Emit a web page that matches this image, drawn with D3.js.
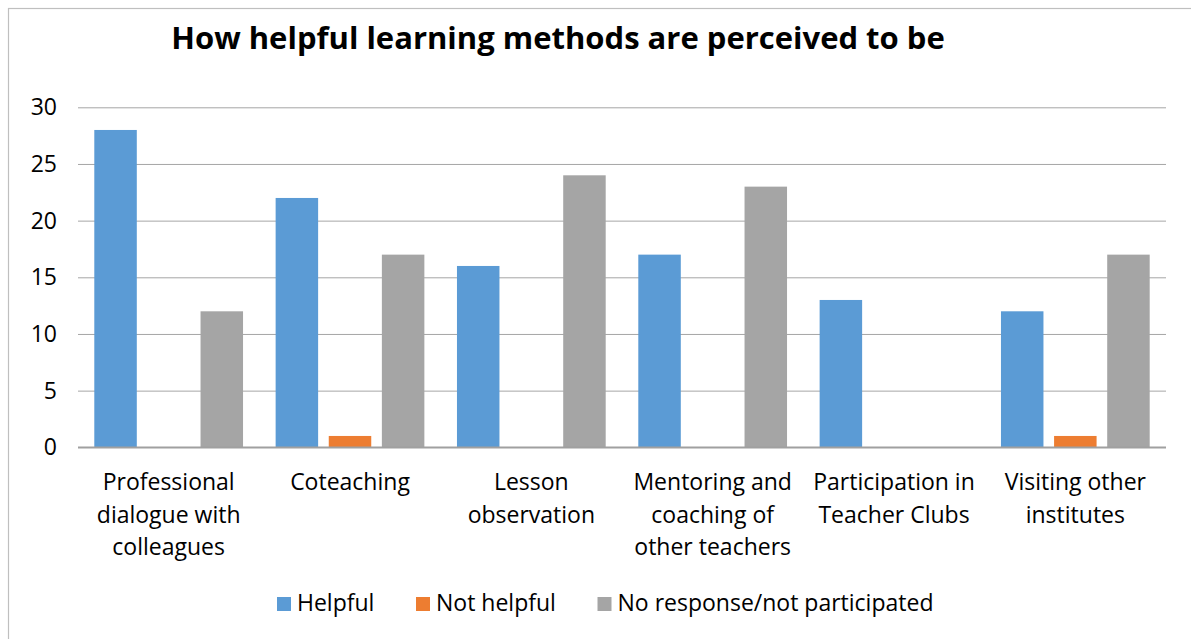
<!DOCTYPE html>
<html lang="en">

<head>
    <meta charset="UTF-8">
    <title>How helpful learning methods are perceived to be</title>
    <style>
        * {
            margin: 0;
            padding: 0;
        }

        html,
        body {
            overflow: hidden;
            background: #fff;
        }

        text {
            font-family: "Open Sans", Lato, sans-serif;
            fill: #000;
        }
    </style>
</head>

<body>
    <div id="chart"></div>
    <script src="https://cdn.jsdelivr.net/npm/d3@7"></script>
    <script>
        const categories = [
            'Professional\ndialogue with\ncolleagues',
            'Coteaching',
            'Lesson\nobservation',
            'Mentoring and\ncoaching of\nother teachers',
            'Participation in\nTeacher Clubs',
            'Visiting other\ninstitutes'
        ]
        const seriesNames = ['Helpful', 'Not helpful', 'No response/not participated']
        const helpful = [28, 22, 16, 17, 13, 12]
        const notHelpful = [0, 1, 0, 0, 0, 1]
        const noResponse = [12, 17, 24, 23, 0, 17]
        const yTicks = [0, 5, 10, 15, 20, 25, 30]
        const colors = ['#5B9BD5', '#ED7D31', '#A5A5A5']

        function drawChart() {
            const width = 1191
            const height = 639
            const svg = d3.select('#chart')
                .append('svg')
                .attr('width', width)
                .attr('height', height)

            // chart border (runs off the picture at right and bottom)
            svg.append('rect')
                .attr('x', 8.5).attr('y', 8.5)
                .attr('width', 1200).attr('height', 700)
                .attr('fill', '#fff')
                .attr('stroke', '#BFBFBF')
                .attr('stroke-width', 1.2)

            svg.append('text')
                .attr('x', 558).attr('y', 49)
                .attr('text-anchor', 'middle')
                .style('font-size', '31px')
                .style('font-weight', 'bold')
                .text('How helpful learning methods are perceived to be')

            const left = 78, right = 1166, top = 107.3, bottom = 447.3

            const y = d3.scaleLinear().domain([0, 30]).range([bottom, top])
            const x0 = d3.scaleBand().domain(d3.range(categories.length)).range([left, right])
            const x1 = d3.scaleBand().domain(d3.range(seriesNames.length))
                .range([16.3, x0.bandwidth() - 16.3]).paddingInner(0.2)

            // gridlines + y labels
            const yAxis = svg.append('g')
                .attr('transform', `translate(${left},0)`)
                .call(d3.axisLeft(y).tickValues(yTicks).tickSize(-(right - left)).tickPadding(21))
            yAxis.select('.domain').remove()
            yAxis.selectAll('.tick line')
                .attr('stroke', d => d === 0 ? '#A0A0A0' : '#A6A6A6')
                .attr('stroke-width', d => d === 0 ? 1.6 : 1)
            yAxis.selectAll('.tick text')
                .style('font-size', '23px')
                .style('font-family', '"Open Sans", sans-serif')
                .attr('fill', '#000')

            const table = categories.map((c, i) => [helpful[i], notHelpful[i], noResponse[i]])

            const groups = svg.selectAll('g.cat')
                .data(table)
                .join('g')
                .attr('class', 'cat')
                .attr('transform', (d, i) => `translate(${x0(i)},0)`)

            groups.selectAll('rect')
                .data(d => d.map((v, k) => ({ v, k })))
                .join('rect')
                .attr('x', d => x1(d.k))
                .attr('y', d => y(d.v))
                .attr('width', x1.bandwidth())
                .attr('height', d => bottom - y(d.v))
                .attr('fill', d => colors[d.k])

            // redraw baseline on top of bars
            svg.append('line')
                .attr('x1', left).attr('x2', right)
                .attr('y1', bottom).attr('y2', bottom)
                .attr('stroke', '#A0A0A0').attr('stroke-width', 1.6)

            // category labels
            const labels = svg.selectAll('text.cat')
                .data(categories)
                .join('text')
                .attr('class', 'cat')
                .attr('text-anchor', 'middle')
                .style('font-size', '23px')
                .attr('transform', (d, i) => `translate(${x0(i) + x0.bandwidth() / 2},490)`)
            labels.selectAll('tspan')
                .data(d => d.split('\n'))
                .join('tspan')
                .attr('x', 0)
                .attr('y', (d, i) => i * 32.5)
                .text(d => d)

            // legend
            const legendX = [277, 416, 597.5]
            const legend = svg.selectAll('g.legend')
                .data(seriesNames)
                .join('g')
                .attr('class', 'legend')
                .attr('transform', (d, i) => `translate(${legendX[i]},597)`)
            legend.append('rect')
                .attr('width', 14).attr('height', 14)
                .attr('fill', (d, i) => colors[i])
            legend.append('text')
                .attr('x', 20).attr('y', 14)
                .style('font-size', '23px')
                .text(d => d)
        }

        drawChart()
    </script>
</body>

</html>
